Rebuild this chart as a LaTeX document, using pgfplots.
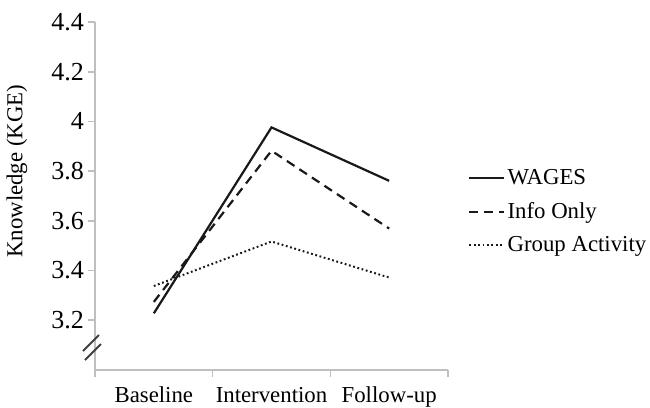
\documentclass[border=0pt]{standalone}
\usepackage{fontspec}
\setmainfont{Liberation Serif}
\usepackage{pgfplots}
\pgfplotsset{compat=1.18}

\begin{document}
\begin{tikzpicture}
\path[use as bounding box] (-47.5bp,-19bp) rectangle (277.5bp,185bp);
\begin{axis}[
    at={(0,0)}, anchor=south west,
    scale only axis,
    width=176.5bp, height=174bp,
    xmin=-0.5, xmax=2.5,
    ymin=3.0, ymax=4.4,
    clip=false,
    axis x line*=bottom, axis y line*=left,
    axis line style={-, draw=black!25, line width=0.8bp},
    xtick={0,1,2},
    xticklabels={Baseline,Intervention,Follow-up},
    major x tick style={draw=none},
    minor xtick={-0.5,0.5,1.5,2.5},
    ytick={3.2,3.4,3.6,3.8,4,4.2,4.4},
    tick align=outside,
    major tick length=3.5bp, minor tick length=3.5bp,
    tick style={draw=black!25, line width=0.8bp},
    /pgf/number format/assume math mode=true,
    xticklabel style={yshift=-1.5bp, font=\fontsize{11.4bp}{13bp}\selectfont},
    yticklabel style={xshift=1.5bp, font=\fontsize{13bp}{15bp}\selectfont},
    ylabel={Knowledge (KGE)},
    ylabel style={at={([xshift=-39bp]rel axis cs:0,0.571)}, anchor=center,
        font=\fontsize{11.4bp}{13bp}\selectfont},
    legend style={draw=none, fill=none, at={(1,0.455)}, anchor=west,
        xshift=10bp, inner sep=0pt, row sep=5.5bp,
        font=\fontsize{11.4bp}{13bp}\selectfont,
        nodes={inner sep=1bp}},
    legend cell align=left,
    legend image code/.code={\draw[#1] (0bp,0bp) -- (17.5bp,0bp);},
]

% WAGES
\addplot[black!90, line width=1.1bp] coordinates {
    (0, 3.228) (1, 3.976) (2, 3.761)
};
\addlegendentry{WAGES}

% Info Only
\addplot[black!90, line width=1.1bp, dash pattern=on 4.5bp off 3bp] coordinates {
    (0, 3.274) (1, 3.882) (2, 3.569)
};
\addlegendentry{Info Only}

% Group Activity
\addplot[black!90, line width=1bp, dash pattern=on 0.9bp off 1.3bp] coordinates {
    (0, 3.338) (1, 3.517) (2, 3.372)
};
\addlegendentry{Group Activity}

% axis break mark
\draw[black!75, line width=0.9bp] ([shift={(-6bp,9.5bp)}]rel axis cs:0,0) -- ([shift={(2bp,17.5bp)}]rel axis cs:0,0);
\draw[black!75, line width=0.9bp] ([shift={(-5bp,5bp)}]rel axis cs:0,0) -- ([shift={(3bp,13bp)}]rel axis cs:0,0);
\end{axis}
\end{tikzpicture}
\end{document}
